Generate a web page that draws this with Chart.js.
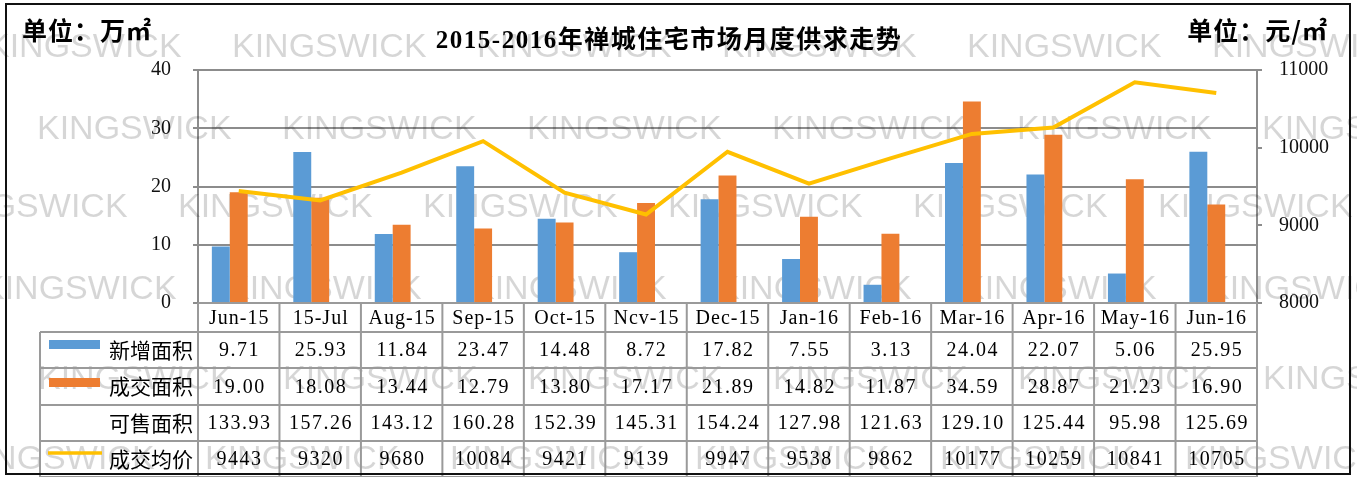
<!DOCTYPE html>
<html lang="zh-CN">
<head>
    <meta charset="UTF-8">
    <title>2015-2016年禅城住宅市场月度供求走势</title>
    <script src="https://cdn.jsdelivr.net/npm/chart.js"></script>
    <style>
        body { margin: 0; background: #fff; }
        canvas { display: block; }
    </style>
</head>
<body>
    <canvas id="grafico" width="1357" height="477"></canvas>

    <script>
        const meses = ['Jun-15', '15-Jul', 'Aug-15', 'Sep-15', 'Oct-15', 'Ncv-15', 'Dec-15', 'Jan-16', 'Feb-16', 'Mar-16', 'Apr-16', 'May-16', 'Jun-16'];
        const novaOferta = [9.71, 25.93, 11.84, 23.47, 14.48, 8.72, 17.82, 7.55, 3.13, 24.04, 22.07, 5.06, 25.95];
        const areaNegociada = [19.00, 18.08, 13.44, 12.79, 13.80, 17.17, 21.89, 14.82, 11.87, 34.59, 28.87, 21.23, 16.90];
        const areaVenda = [133.93, 157.26, 143.12, 160.28, 152.39, 145.31, 154.24, 127.98, 121.63, 129.10, 125.44, 95.98, 125.69];
        const precoMedio = [9443, 9320, 9680, 10084, 9421, 9139, 9947, 9538, 9862, 10177, 10259, 10841, 10705];

        const nomesLinhas = ['新增面积', '成交面积', '可售面积', '成交均价'];
        const titulo = '2015-2016年禅城住宅市场月度供求走势';
        const unidadeEsq = '单位：万㎡';
        const unidadeDir = '单位：元/㎡';

        const AZUL = '#5B9BD5';
        const LARANJA = '#ED7D31';
        const AMARELO = '#FFC000';
        const CINZA = '#8c8c8c';
        const fonteSerif = "'Liberation Serif', 'Noto Sans CJK SC', serif";
        const fonteCJK = "'Noto Sans CJK SC', sans-serif";

        // marca d'água KINGSWICK (fileiras: y, x inicial)
        const marcaDagua = {
            id: 'marcaDagua',
            beforeDatasetsDraw(chart) {
                const ctx = chart.ctx;
                const fileiras = [[48, -13], [130, 37], [208, -67], [290, -18], [380, 38], [460, -40]];
                ctx.save();
                ctx.font = "34px 'Liberation Sans', Arial, sans-serif";
                ctx.fillStyle = 'rgba(0,0,0,0.16)';
                ctx.textBaseline = 'middle';
                ctx.textAlign = 'left';
                fileiras.forEach(([y, x0]) => {
                    for (let x = x0; x < 1357; x += 245) {
                        ctx.fillText('KINGSWICK', x, y);
                    }
                });
                ctx.restore();
            }
        };

        // tabela de dados, título e moldura
        const tabelaPlugin = {
            id: 'tabela',
            afterDraw(chart) {
                const ctx = chart.ctx;
                const ca = chart.chartArea;
                const xs = chart.scales.x;
                const passo = (ca.right - ca.left) / meses.length;
                const linhasY = [ca.bottom, 332, 368, 405, 441, 477];
                const esq = 40;

                ctx.save();
                ctx.strokeStyle = '#9a9a9a';
                ctx.lineWidth = 2;
                ctx.beginPath();
                ctx.moveTo(ca.left, linhasY[0]);
                ctx.lineTo(ca.right, linhasY[0]);
                for (let r = 1; r < linhasY.length; r++) {
                    ctx.moveTo(esq, linhasY[r]);
                    ctx.lineTo(ca.right, linhasY[r]);
                }
                ctx.moveTo(esq, linhasY[1]);
                ctx.lineTo(esq, 477);
                for (let k = 0; k <= meses.length; k++) {
                    const xk = ca.left + k * passo;
                    ctx.moveTo(xk, linhasY[0]);
                    ctx.lineTo(xk, 477);
                }
                ctx.stroke();

                // cabeçalho com os meses
                ctx.fillStyle = '#000';
                ctx.textAlign = 'center';
                ctx.textBaseline = 'middle';
                ctx.font = '20px ' + fonteSerif;
                ctx.letterSpacing = '1px';
                meses.forEach((m, i) => {
                    ctx.fillText(m, xs.getPixelForValue(i) + 0.5, (linhasY[0] + linhasY[1]) / 2 + 1);
                });

                // linhas de valores
                const valores = [
                    novaOferta.map(v => v.toFixed(2)),
                    areaNegociada.map(v => v.toFixed(2)),
                    areaVenda.map(v => v.toFixed(2)),
                    precoMedio.map(v => String(v))
                ];
                ctx.letterSpacing = '1.5px';
                valores.forEach((linha, r) => {
                    const yc = (linhasY[r + 1] + linhasY[r + 2]) / 2 + 1;
                    linha.forEach((txt, i) => {
                        ctx.fillText(txt, xs.getPixelForValue(i) + 0.75, yc);
                    });
                });
                ctx.letterSpacing = '0px';

                // rótulos e legenda
                ctx.textAlign = 'right';
                ctx.font = '21px ' + fonteCJK;
                nomesLinhas.forEach((nome, r) => {
                    const yc = (linhasY[r + 1] + linhasY[r + 2]) / 2;
                    ctx.fillText(nome, 193, yc);
                });
                ctx.fillStyle = AZUL;
                ctx.fillRect(49, 340, 51, 9);
                ctx.fillStyle = LARANJA;
                ctx.fillRect(49, 378, 51, 9);
                ctx.strokeStyle = AMARELO;
                ctx.lineWidth = 3.5;
                ctx.beginPath();
                ctx.moveTo(48, 453);
                ctx.lineTo(102, 453);
                ctx.stroke();

                // título e unidades
                ctx.fillStyle = '#000';
                ctx.textBaseline = 'middle';
                ctx.textAlign = 'center';
                ctx.font = 'bold 25px ' + fonteSerif;
                ctx.letterSpacing = '1.5px';
                ctx.fillText(titulo, 669, 42);
                ctx.font = 'bold 25px ' + fonteCJK;
                ctx.letterSpacing = '1px';
                ctx.textAlign = 'left';
                ctx.fillText(unidadeEsq, 22, 30);
                ctx.textAlign = 'right';
                ctx.fillText(unidadeDir, 1328, 30);
                ctx.letterSpacing = '0px';

                // moldura
                ctx.strokeStyle = '#111';
                ctx.lineWidth = 2;
                ctx.strokeRect(6, 4, 1344, 470);
                ctx.restore();
            }
        };

        new Chart(document.getElementById('grafico'), {
            type: 'bar',
            data: {
                labels: meses,
                datasets: [
                    {
                        type: 'line',
                        label: nomesLinhas[3],
                        data: precoMedio,
                        yAxisID: 'y1',
                        borderColor: AMARELO,
                        borderWidth: 4,
                        pointRadius: 0,
                        tension: 0,
                        order: -1
                    },
                    {
                        label: nomesLinhas[0],
                        data: novaOferta,
                        backgroundColor: AZUL,
                        yAxisID: 'y'
                    },
                    {
                        label: nomesLinhas[1],
                        data: areaNegociada,
                        backgroundColor: LARANJA,
                        yAxisID: 'y'
                    },
                    {
                        // série sem preenchimento, só ocupa o espaço no grupo
                        label: nomesLinhas[2],
                        data: areaVenda,
                        backgroundColor: 'rgba(0,0,0,0)',
                        yAxisID: 'y'
                    }
                ]
            },
            options: {
                responsive: false,
                animation: false,
                categoryPercentage: 0.66,
                barPercentage: 1.0,
                layout: { padding: { top: 70, bottom: 174, left: 0, right: 0 } },
                plugins: {
                    legend: { display: false },
                    tooltip: { enabled: false }
                },
                scales: {
                    x: { display: false, offset: true },
                    y: {
                        position: 'left',
                        min: 0,
                        max: 40,
                        ticks: { stepSize: 10, padding: 22, color: '#111', font: { family: fonteSerif, size: 20 } },
                        grid: { color: CINZA, lineWidth: 2, tickLength: 5 },
                        border: { color: CINZA, width: 2 },
                        afterFit(scale) { scale.width = 198; }
                    },
                    y1: {
                        position: 'right',
                        min: 8000,
                        max: 11000,
                        ticks: {
                            stepSize: 1000,
                            padding: 17,
                            color: '#111',
                            font: { family: fonteSerif, size: 20 },
                            callback: v => String(v)
                        },
                        grid: { drawOnChartArea: false, color: CINZA, lineWidth: 2, tickLength: 5 },
                        border: { color: CINZA, width: 2 },
                        afterFit(scale) { scale.width = 100; }
                    }
                }
            },
            plugins: [marcaDagua, tabelaPlugin]
        });
    </script>
</body>
</html>
